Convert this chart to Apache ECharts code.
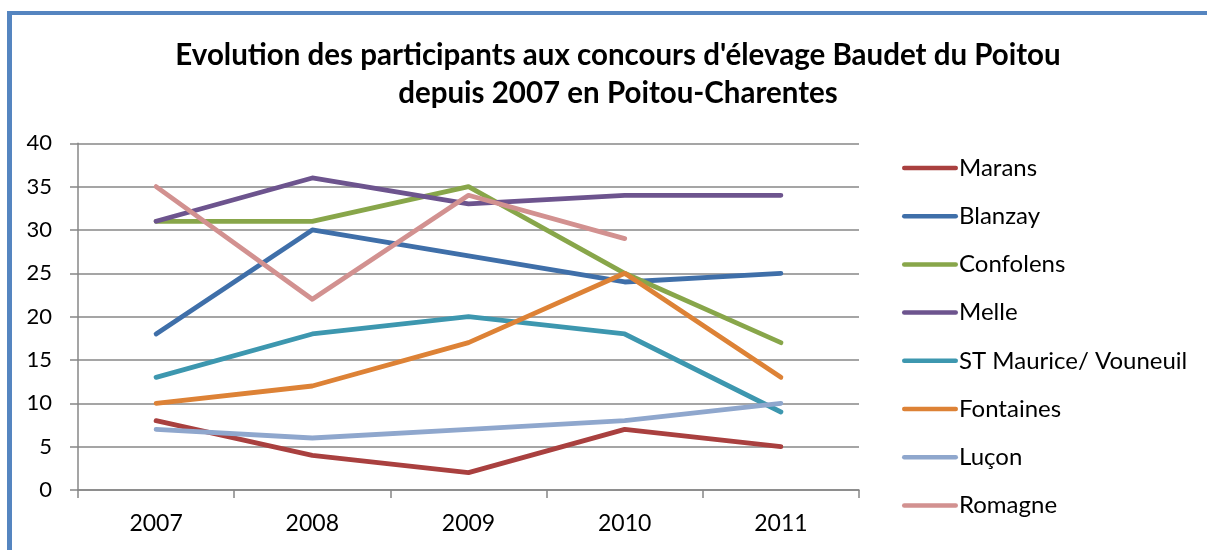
<!DOCTYPE html>
<html>
<head>
<meta charset="utf-8">
<script src="https://cdn.jsdelivr.net/npm/echarts@6/dist/echarts.min.js"></script>
<style>
  html, body { margin: 0; padding: 0; background: #fff; }
  #frame {
    position: absolute; left: 7px; top: 11px; width: 1210px; height: 560px;
    border-left: 5px solid #5585C0; border-top: 4px solid #5585C0;
    box-sizing: border-box;
  }
  #chart { position: absolute; left: 0; top: 0; width: 1207px; height: 550px; }
</style>
</head>
<body>
<div id="frame"></div>
<div id="chart"></div>
<script>
const years = ['2007', '2008', '2009', '2010', '2011'];
const yTicks = [0, 5, 10, 15, 20, 25, 30, 35, 40];

const marans     = [8, 4, 2, 7, 5];
const blanzay    = [18, 30, 27, 24, 25];
const confolens  = [31, 31, 35, 25, 17];
const melle      = [31, 36, 33, 34, 34];
const stMaurice  = [13, 18, 20, 18, 9];
const fontaines  = [10, 12, 17, 25, 13];
const lucon      = [7, 6, 7, 8, 10];
const romagne    = [35, 22, 34, 29, null];

const seriesDefs = [
  { name: 'Marans', data: marans, color: '#A9403F' },
  { name: 'Blanzay', data: blanzay, color: '#3F6FA9' },
  { name: 'Confolens', data: confolens, color: '#88A64A' },
  { name: 'Melle', data: melle, color: '#6D548E' },
  { name: 'ST Maurice/ Vouneuil', data: stMaurice, color: '#3D97AF' },
  { name: 'Fontaines', data: fontaines, color: '#DD8236' },
  { name: 'Luçon', data: lucon, color: '#8FA7CD' },
  { name: 'Romagne', data: romagne, color: '#D29190' }
];

const font = 'Lato, "Open Sans", sans-serif';
const chart = echarts.init(document.getElementById('chart'));
chart.setOption({
  animation: false,
  title: {
    text: "Evolution des participants aux concours d'élevage Baudet du Poitou\ndepuis 2007 en Poitou-Charentes",
    left: 613, top: 31, textAlign: 'center',
    textStyle: { fontFamily: font, fontWeight: 'bold', fontSize: 29.5, lineHeight: 38, color: '#000' }
  },
  grid: { left: 78, right: 348, top: 143.3, bottom: 60 },
  legend: {
    orient: 'vertical', left: 897, top: 151,
    itemWidth: 56, itemHeight: 24, itemGap: 24.2,
    icon: 'path://M2,0H54A2,2,0,0,1,54,4.5H2A2,2,0,0,1,2,0Z',
    textStyle: { fontFamily: font, fontSize: 24, color: '#000', padding: [0, 0, 0, -4] },
    data: seriesDefs.map(s => s.name)
  },
  xAxis: {
    type: 'category', data: years, boundaryGap: true,
    axisLine: { lineStyle: { color: '#878787', width: 1.5 } },
    axisTick: { show: true, length: 8, inside: false, lineStyle: { color: '#878787', width: 1.5 } },
    axisLabel: { fontFamily: font, fontSize: 23, color: '#000', margin: 22 }
  },
  yAxis: {
    type: 'value', min: yTicks[0], max: yTicks[yTicks.length - 1], interval: 5,
    axisLine: { show: true, lineStyle: { color: '#878787', width: 1.5 } },
    axisTick: { show: true, length: 8, lineStyle: { color: '#878787', width: 1.5 } },
    splitLine: { lineStyle: { color: '#878787', width: 1.5 } },
    axisLabel: { fontFamily: font, fontSize: 22, color: '#000', margin: 26 }
  },
  series: seriesDefs.map(s => ({
    name: s.name, type: 'line', data: s.data,
    symbol: 'none', showSymbol: false,
    connectNulls: false,
    lineStyle: { color: s.color, width: 4.8, cap: 'round', join: 'round' },
    itemStyle: { color: s.color }
  }))
});
</script>
</body>
</html>
